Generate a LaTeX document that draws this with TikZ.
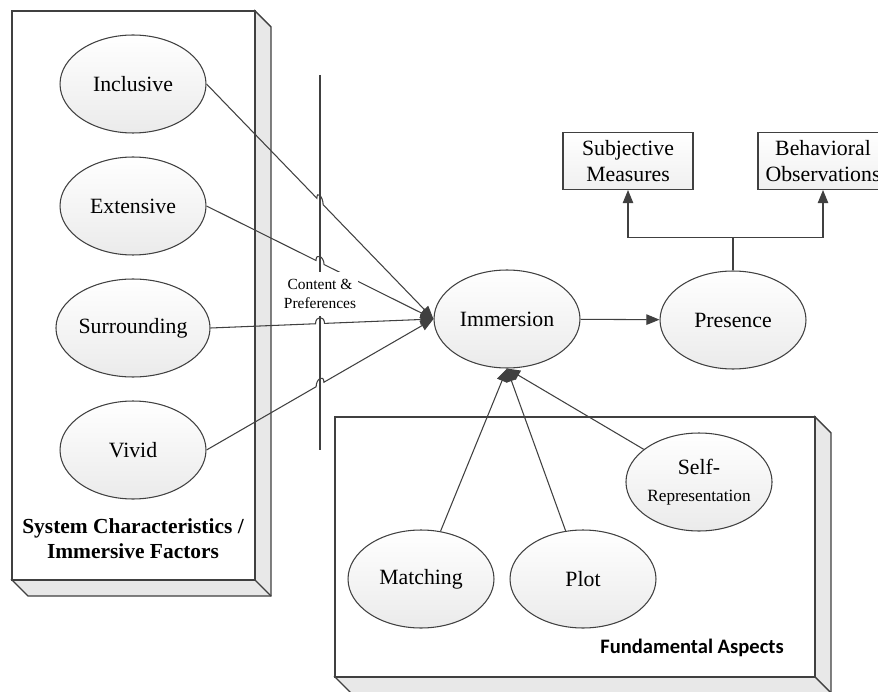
\documentclass[tikz,border=0pt]{standalone}
\usepackage{fontspec}
\setmainfont{Liberation Serif}
\newfontfamily\calfont{Carlito}
\usetikzlibrary{shapes.geometric,arrows.meta,calc,intersections}

\begin{document}
\begin{tikzpicture}[x=0.02cm,y=-0.02cm,
    factor/.style={ellipse,draw=black!75,line width=0.6pt,top color=white,bottom color=black!8,
      minimum width=2.92cm,minimum height=1.96cm,inner sep=0pt,align=center,
      font=\fontsize{12.4}{15.3}\selectfont},
    measure/.style={rectangle,draw=black!75,line width=0.6pt,top color=white,bottom color=black!6,
      minimum width=2.6cm,minimum height=1.14cm,inner sep=1pt,align=center,
      font=\fontsize{12.4}{14.7}\selectfont},
    conn/.style={draw=black!75,line width=0.6pt,-{Triangle[length=7.5pt,width=6pt]}},
    frame/.style={draw=black!75,line width=0.8pt},
    side/.style={frame,fill=black!9}]
  \useasboundingbox (0,0) rectangle (878,692);
  % Left frame
  \filldraw[side] (255,11) -- (271,27) -- (271,596) -- (28,596) -- (12,580) -- (255,580) -- cycle;
  \draw[frame] (255,580) -- (271,596);
  \draw[frame,fill=white] (12,11) rectangle (255,580);
  % Bottom frame
  \filldraw[side] (815,417) -- (831,433) -- (831,693) -- (351,693) -- (335,677) -- (815,677) -- cycle;
  \draw[frame] (815,677) -- (831,693);
  \draw[frame,fill=white] (335,417) rectangle (815,677);
  % Immersive factors
  \foreach \name/\txt/\y in {incl/Inclusive/84,ext/Extensive/206,surr/Surrounding/328,vivid/Vivid/450}
    \node[factor] (\name) at (133,\y) {\txt};
  \node[font=\bfseries\fontsize{12.2}{14.2}\selectfont,align=center] (syslabel) at (133,539)
    {System Characteristics /\\Immersive Factors};
  % Immersion and presence
  \node[factor] (imm) at (507,319) {Immersion};
  \node[factor] (pres) at (733,320) {Presence};
  \node[measure] (subj) at (628,161) {Subjective\\Measures};
  \node[measure] (behav) at (823,161) {Behavioral\\Observations};
  % Fundamental aspects
  \node[factor] (match) at (421,579) {Matching};
  \node[factor] (plot) at (583,579) {Plot};
  \node[factor] (selfrep) at (699,482) {Self-\\{\fontsize{9.8}{12}\selectfont Representation}};
  \node[font=\calfont\bfseries\fontsize{11.7}{13}\selectfont] (fundlabel) at (692,648) {Fundamental Aspects};
  % Content divider
  \coordinate (vtop) at (320,75);
  \coordinate (vbot) at (320,450);
  \draw[black!75,line width=0.6pt,name path=vline] (vtop) -- (vbot);
  % Factors into immersion, hopping over the divider
  \foreach \name in {incl,ext,surr,vivid}{
    \path[name path=c\name] (\name.east) -- (imm.west);
    \path[name intersections={of=vline and c\name,by=hop\name}];
    \draw[conn] (\name.east) -- ($(hop\name)!.09cm!(\name.east)$)
      .. controls +(0,-8) and +(0,-8) .. ($(hop\name)!.09cm!(imm.west)$) -- (imm.west);
  }
  \node[fill=white,inner xsep=1pt,inner ysep=4pt,align=center,font=\fontsize{8.8}{11.3}\selectfont]
    (content) at (320,294) {Content \&\\Preferences};
  % Aspects into immersion
  \foreach \name in {match,plot,selfrep}
    \draw[conn] (\name) -- (imm.south);
  % Presence and its measures
  \draw[conn] (imm) -- (pres);
  \draw[conn] (pres.north) -- ++(0,-33) coordinate (split) -| (subj.south);
  \draw[conn] (split) -| (behav.south);
\end{tikzpicture}
\end{document}
